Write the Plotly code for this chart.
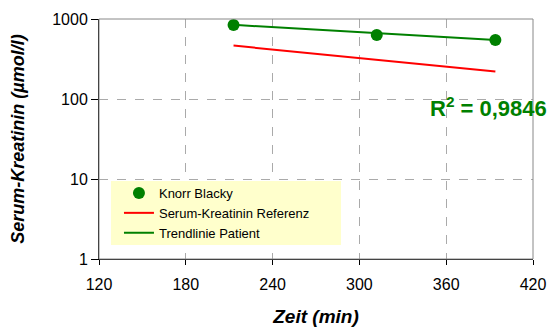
import plotly.graph_objects as go

# Data
zeit_patient = [213, 312, 394]
kreatinin_patient = [840, 630, 545]

zeit_referenz = [213, 394]
kreatinin_referenz = [465, 220]

zeit_trend = [213, 394]
kreatinin_trend = [845, 545]

r2_text = "R<sup>2</sup> = 0,9846"

x_ticks = [120, 180, 240, 300, 360, 420]
y_ticks = [1, 10, 100, 1000]
y_ticktext = ["1", "10", "100", "1000"]

FONT = "Liberation Sans, Arial, sans-serif"
GREEN = "#008000"
RED = "#FF0000"

fig = go.Figure()

fig.add_trace(go.Scatter(
    x=zeit_patient, y=kreatinin_patient, mode="markers", name="Knorr Blacky",
    marker=dict(color=GREEN, size=12),
))
fig.add_trace(go.Scatter(
    x=zeit_referenz, y=kreatinin_referenz, mode="lines", name="Serum-Kreatinin Referenz",
    line=dict(color=RED, width=2),
))
fig.add_trace(go.Scatter(
    x=zeit_trend, y=kreatinin_trend, mode="lines", name="Trendlinie Patient",
    line=dict(color=GREEN, width=2),
))

fig.add_annotation(
    xref="paper", yref="paper", x=1.038, y=0.633, xanchor="right", yanchor="middle",
    text=r2_text, showarrow=False,
    font=dict(family=FONT, size=22, color=GREEN, weight="bold"),
)

# plot-area frame (top/right gray)
fig.add_shape(type="rect", xref="paper", yref="paper", x0=0, y0=0, x1=1, y1=1,
              line=dict(color="#888888", width=1), layer="above")
# legend box background
fig.add_shape(type="rect", xref="paper", yref="paper",
              x0=0.0276, x1=0.5576, y0=0.0583, y1=0.325,
              fillcolor="#FFFFCC", line=dict(width=0), layer="above")

fig.update_layout(
    width=550, height=327,
    margin=dict(l=99, r=17, t=19, b=68, autoexpand=False),
    paper_bgcolor="white", plot_bgcolor="white",
    font=dict(family=FONT, size=16, color="black"),
    showlegend=True,
    legend=dict(
        x=0.046, y=0.3375, xanchor="left", yanchor="top",
        bgcolor="rgba(0,0,0,0)", borderwidth=0,
        font=dict(family=FONT, size=13, color="black"),
        tracegroupgap=0, itemwidth=30,
    ),
)

fig.update_xaxes(
    range=[120, 420], tickvals=x_ticks, automargin=False,
    showline=True, linecolor="black", linewidth=1,
    ticks="outside", ticklen=5, tickcolor="black", ticklabelstandoff=6,
    showgrid=True, gridcolor="#AAAAAA", griddash="dash", gridwidth=1,
    zeroline=False,
    tickfont=dict(family=FONT, size=16),
    title=dict(text="<b><i>Zeit (min)</i></b>", font=dict(family=FONT, size=19), standoff=18),
)
fig.update_yaxes(
    type="log", range=[0, 3], tickvals=y_ticks, ticktext=y_ticktext, automargin=False,
    showline=True, linecolor="black", linewidth=1,
    ticks="outside", ticklen=7, tickcolor="black",
    showgrid=True, gridcolor="#AAAAAA", griddash="dash", gridwidth=1,
    zeroline=False,
    tickfont=dict(family=FONT, size=16),
    title=dict(text="<b><i>Serum-Kreatinin (µmol/l)</i></b>", font=dict(family=FONT, size=18), standoff=22),
)

fig.write_html("out.html", config={"displayModeBar": False},
               post_script="document.body.style.margin='0px';")
